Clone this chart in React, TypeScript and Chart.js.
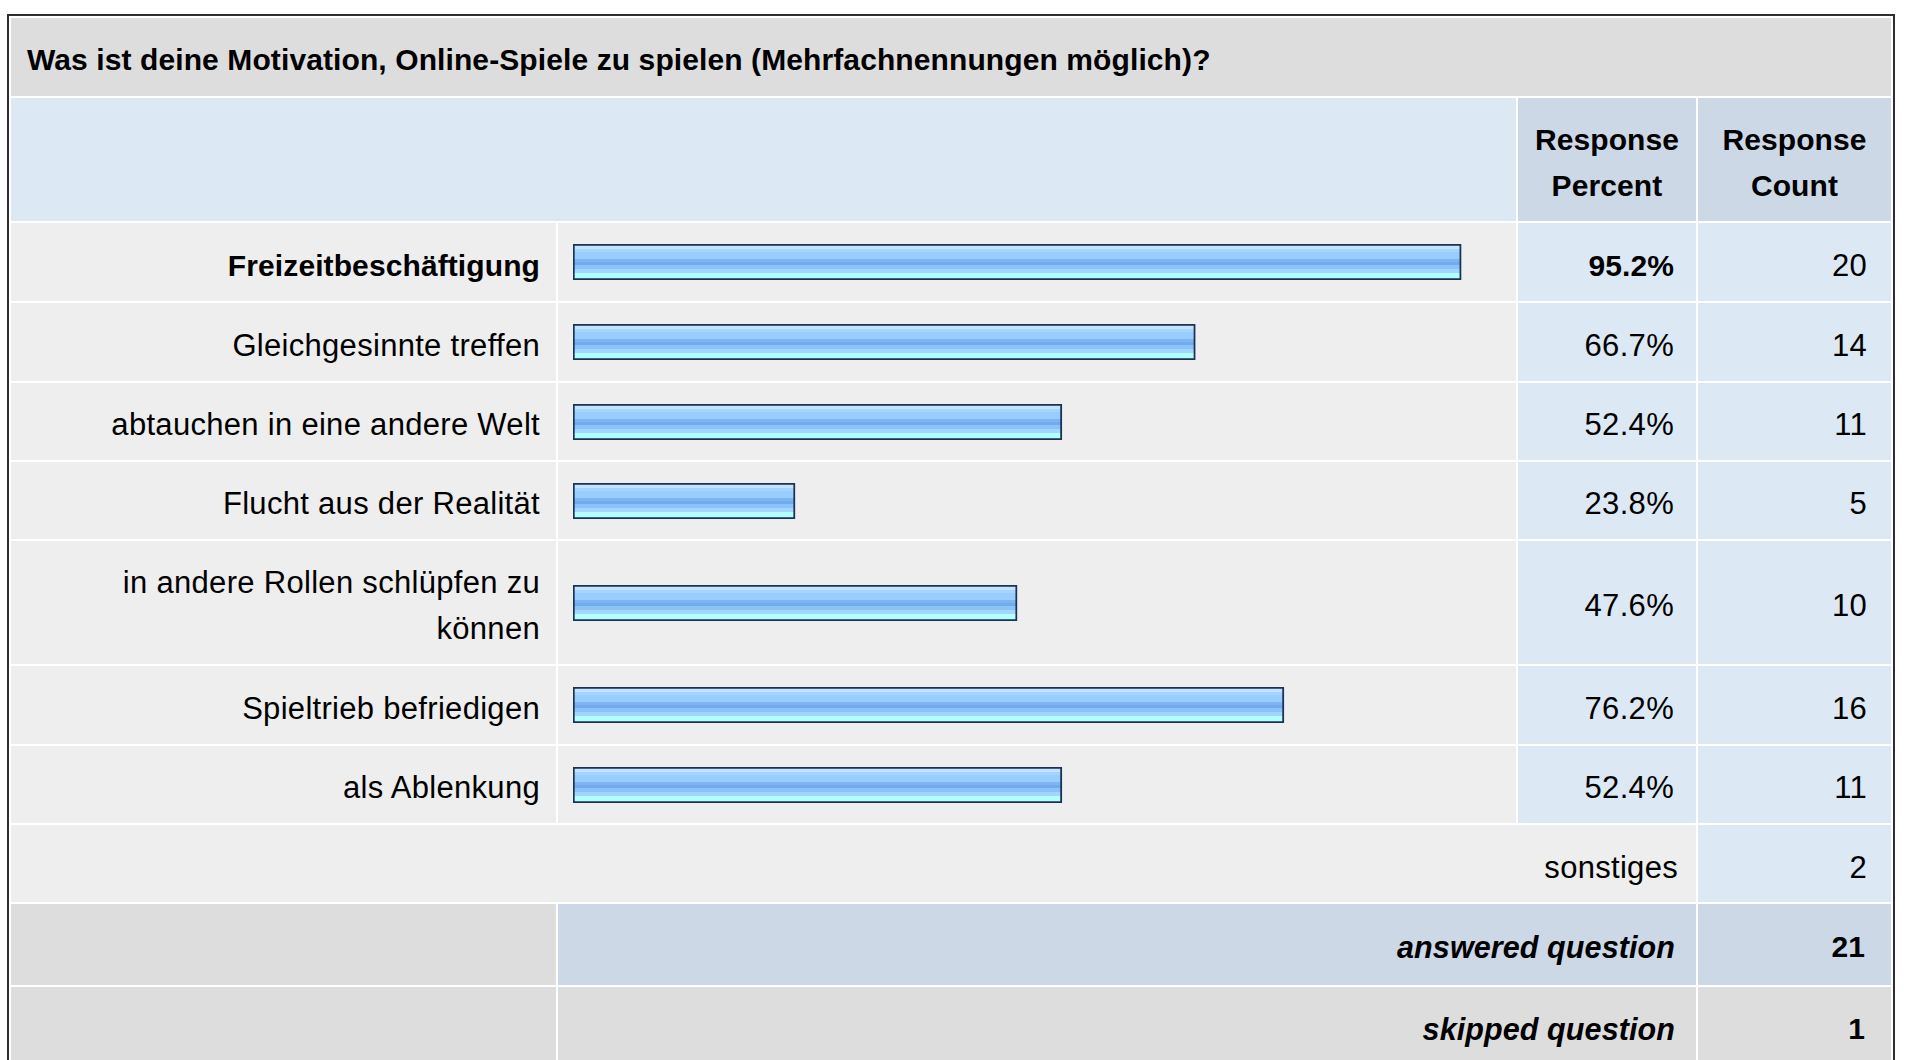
import React, { useEffect, useRef } from "react";
import { Chart, registerables } from "chart.js";

Chart.register(...registerables);

// ---------- data ----------
const questionTitle =
  "Was ist deine Motivation, Online-Spiele zu spielen (Mehrfachnennungen möglich)?";
const categories = [
  "Freizeitbeschäftigung",
  "Gleichgesinnte treffen",
  "abtauchen in eine andere Welt",
  "Flucht aus der Realität",
  "in andere Rollen schlüpfen zu können",
  "Spieltrieb befriedigen",
  "als Ablenkung",
];
const percents = [95.2, 66.7, 52.4, 23.8, 47.6, 76.2, 52.4];
const counts = [20, 14, 11, 5, 10, 16, 11];
const headerPercent = ["Response", "Percent"];
const headerCount = ["Response", "Count"];
const otherLabel = "sonstiges";
const otherCount = 2;
const answeredLabel = "answered question";
const answeredCount = 21;
const skippedLabel = "skipped question";
const skippedCount = 1;
const axisMin = 0;
const axisMax = 100;

// ---------- layout / style ----------
const FONT = '"Liberation Sans", Arial, Helvetica, sans-serif';
const COLS = [545, 958, 178, 193];
const ROWS = [78, 123, 78, 78, 77, 77, 123, 78, 77, 77, 81, 80];
const BAR_W = 933;
const BAR_H = 36;
const BAR_PAD_LEFT = 15;

const C_TITLE = "#dddddd";
const C_HEAD_LIGHT = "#dde8f5";
const C_HEAD_DARK = "#ccd8e6";
const C_ROW = "#eeeeee";
const C_NUM = "#dde8f5";
const C_GREY = "#dddddd";

const BANDS: [number, number, string][] = [
  [0.0, 0.139, "#c4e1ff"],
  [0.139, 0.222, "#a7d3ff"],
  [0.222, 0.417, "#99ccff"],
  [0.417, 0.5, "#7db5f4"],
  [0.5, 0.583, "#72aaee"],
  [0.583, 0.694, "#8cc2fa"],
  [0.694, 0.796, "#a3d6ff"],
  [0.796, 1.0, "#b3ffff"],
];

function HBar({ label, value }: { label: string; value: number }) {
  const ref = useRef<HTMLCanvasElement | null>(null);
  useEffect(() => {
    if (!ref.current) return;
    const chart = new Chart(ref.current, {
      type: "bar",
      data: {
        labels: [label],
        datasets: [
          {
            data: [value],
            backgroundColor: (ctx: any) => {
              const ch = ctx.chart;
              const a = ch.chartArea;
              if (!a) return "#99ccff";
              const g = ch.ctx.createLinearGradient(0, a.top, 0, a.bottom);
              BANDS.forEach(([s, e, c]) => {
                g.addColorStop(s, c);
                g.addColorStop(e, c);
              });
              return g;
            },
            borderColor: "#1a3254",
            borderWidth: 2,
            borderSkipped: false,
            barPercentage: 1,
            categoryPercentage: 1,
          } as any,
        ],
      },
      options: {
        indexAxis: "y",
        responsive: false,
        maintainAspectRatio: false,
        animation: false,
        layout: { padding: 0 },
        scales: {
          x: { min: axisMin, max: axisMax, display: false },
          y: { display: false },
        },
        plugins: { legend: { display: false }, tooltip: { enabled: false } },
        events: [],
      },
    });
    return () => chart.destroy();
  }, [label, value]);
  return (
    <canvas
      ref={ref}
      width={BAR_W}
      height={BAR_H}
      style={{ display: "block", width: BAR_W, height: BAR_H }}
    />
  );
}

type CellProps = {
  col: number;
  row: number;
  span?: number;
  bg: string;
  align?: "left" | "right" | "center";
  pr?: number;
  pl?: number;
  pt?: number;
  bold?: boolean;
  italic?: boolean;
  size?: number;
  children?: React.ReactNode;
};

function Cell({
  col,
  row,
  span = 1,
  bg,
  align = "right",
  pr = 0,
  pl = 0,
  pt = 8,
  bold = false,
  italic = false,
  size = 31,
  children,
}: CellProps) {
  const justify =
    align === "left" ? "flex-start" : align === "center" ? "center" : "flex-end";
  return (
    <div
      style={{
        gridColumn: `${col} / span ${span}`,
        gridRow: `${row}`,
        background: bg,
        display: "flex",
        alignItems: "center",
        justifyContent: justify,
        textAlign: align,
        paddingRight: pr,
        paddingLeft: pl,
        paddingTop: pt,
        boxSizing: "border-box",
        fontWeight: bold ? "bold" : "normal",
        fontStyle: italic ? "italic" : "normal",
        fontSize: size,
        letterSpacing: bold ? "0.1px" : "0.3px",
        lineHeight: "46px",
        color: "#000",
        overflow: "hidden",
      }}
    >
      {children}
    </div>
  );
}

export default function App() {
  const maxPct = Math.max(...percents);
  const cells: React.ReactNode[] = [];

  cells.push(
    <Cell key="title" col={1} row={1} span={4} bg={C_TITLE} align="left" pl={16} pt={5} bold size={30}>
      {questionTitle}
    </Cell>
  );
  cells.push(<Cell key="h0" col={1} row={2} span={2} bg={C_HEAD_LIGHT} />);
  cells.push(
    <Cell key="h1" col={3} row={2} bg={C_HEAD_DARK} align="center" pt={6} bold size={30}>
      <div>
        {headerPercent[0]}
        <br />
        {headerPercent[1]}
      </div>
    </Cell>
  );
  cells.push(
    <Cell key="h2" col={4} row={2} bg={C_HEAD_DARK} align="center" pt={6} bold size={30}>
      <div>
        {headerCount[0]}
        <br />
        {headerCount[1]}
      </div>
    </Cell>
  );

  categories.forEach((cat, i) => {
    const r = 3 + i;
    const top = percents[i] === maxPct;
    cells.push(
      <Cell key={`l${i}`} col={1} row={r} bg={C_ROW} pr={16} pl={16} pt={7} bold={top} size={top ? 30 : 31}>
        <div style={{ textAlign: "right" }}>{cat}</div>
      </Cell>
    );
    cells.push(
      <Cell key={`b${i}`} col={2} row={r} bg={C_ROW} align="left" pl={BAR_PAD_LEFT} pt={0}>
        <HBar label={cat} value={percents[i]} />
      </Cell>
    );
    cells.push(
      <Cell key={`p${i}`} col={3} row={r} bg={C_NUM} pr={22} pt={7} bold={top} size={top ? 30 : 31}>
        {percents[i].toFixed(1)}%
      </Cell>
    );
    cells.push(
      <Cell key={`c${i}`} col={4} row={r} bg={C_NUM} pr={24} pt={7}>
        {counts[i]}
      </Cell>
    );
  });

  const rOther = 3 + categories.length;
  cells.push(
    <Cell key="o1" col={1} row={rOther} span={3} bg={C_ROW} pr={18}>
      {otherLabel}
    </Cell>
  );
  cells.push(
    <Cell key="o2" col={4} row={rOther} bg={C_NUM} pr={24}>
      {otherCount}
    </Cell>
  );
  cells.push(<Cell key="a0" col={1} row={rOther + 1} bg={C_GREY} />);
  cells.push(
    <Cell key="a1" col={2} row={rOther + 1} span={2} bg={C_HEAD_DARK} pr={21} pt={4} bold italic size={30.5}>
      {answeredLabel}
    </Cell>
  );
  cells.push(
    <Cell key="a2" col={4} row={rOther + 1} bg={C_HEAD_DARK} pr={26} pt={4} bold size={30}>
      {answeredCount}
    </Cell>
  );
  cells.push(<Cell key="s0" col={1} row={rOther + 2} bg={C_GREY} />);
  cells.push(
    <Cell key="s1" col={2} row={rOther + 2} span={2} bg={C_GREY} pr={21} pt={4} bold italic size={30.5}>
      {skippedLabel}
    </Cell>
  );
  cells.push(
    <Cell key="s2" col={4} row={rOther + 2} bg={C_GREY} pr={26} pt={4} bold size={30}>
      {skippedCount}
    </Cell>
  );

  return (
    <div
      style={{
        position: "fixed",
        left: 0,
        top: 0,
        width: 1907,
        height: 1060,
        overflow: "hidden",
        background: "#ffffff",
        fontFamily: FONT,
      }}
    >
      <div
        style={{
          position: "absolute",
          left: 7,
          top: 14,
          border: "2px solid #2e2e2e",
          padding: 2,
          background: "#ffffff",
          display: "grid",
          gridTemplateColumns: COLS.map((c) => `${c}px`).join(" "),
          gridTemplateRows: ROWS.map((r) => `${r}px`).join(" "),
          gap: 2,
        }}
      >
        {cells}
      </div>
    </div>
  );
}
